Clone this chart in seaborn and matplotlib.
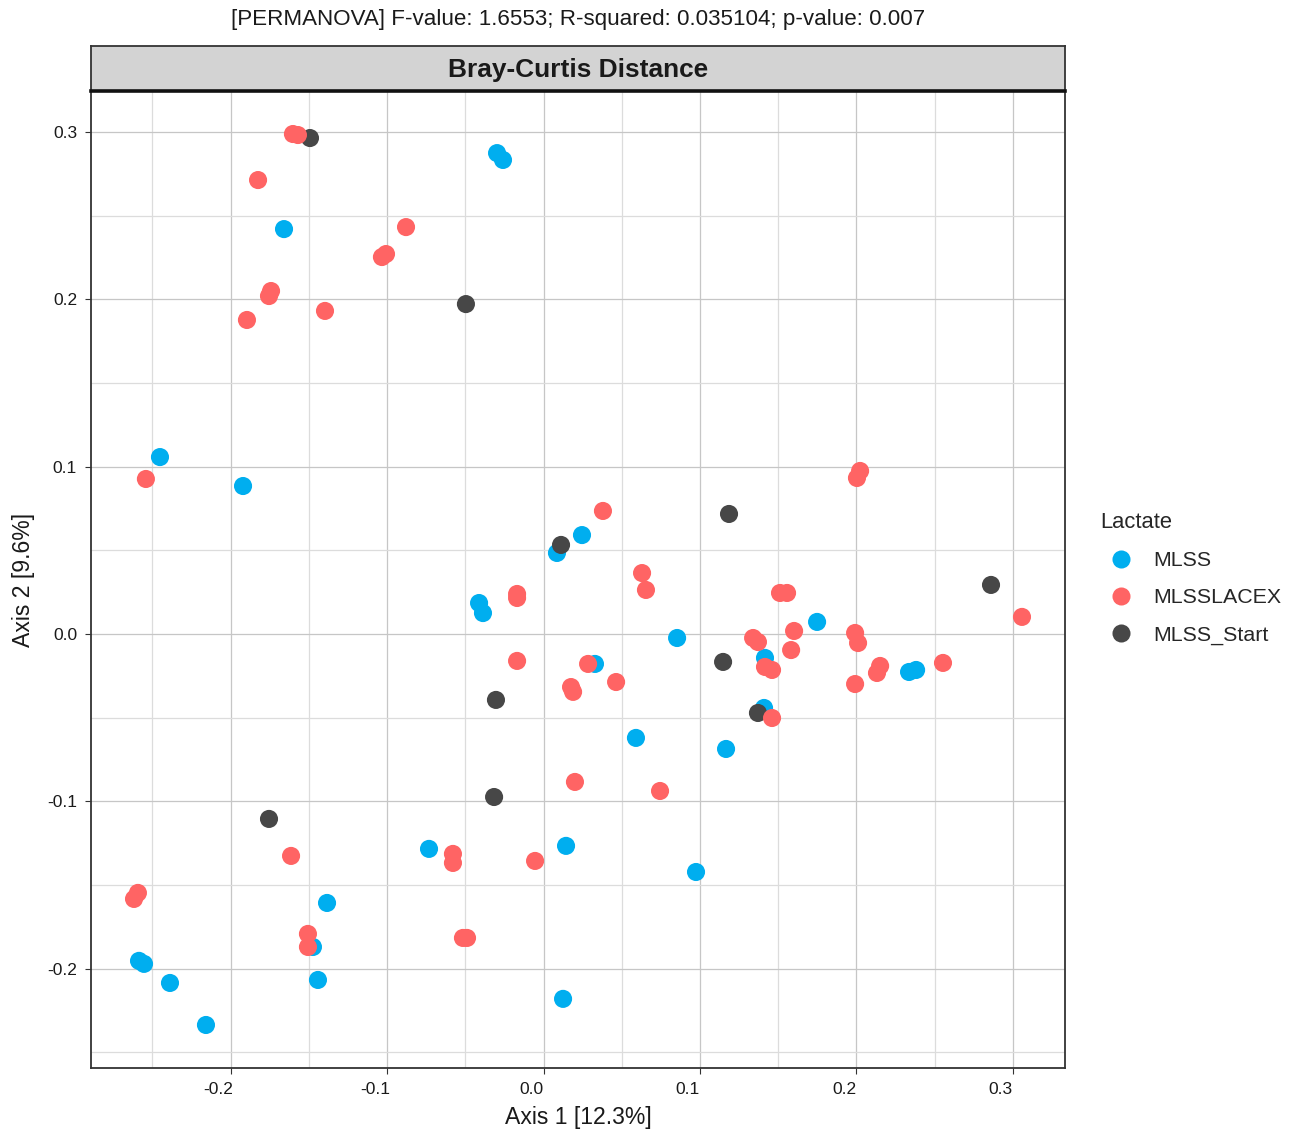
import numpy as np
import pandas as pd
import matplotlib
matplotlib.use("Agg")
import matplotlib.pyplot as plt
import matplotlib.transforms as mtransforms
from matplotlib.ticker import MultipleLocator, FixedLocator
import seaborn as sns

# ---------------- data ----------------
groups = ["MLSS", "MLSSLACEX", "MLSS_Start"]
colors = ["#00AEEF", "#FF6464", "#474747"]

mlss_x = [-0.0297, -0.0259, -0.1659, -0.2452, -0.1921, -0.0412, -0.0387, 0.0086, 0.0246, 0.0854,
          0.1749, 0.0329, 0.1416, 0.2337, 0.2382, 0.1410, 0.0591, 0.1167, 0.0975, -0.0732,
          0.0144, 0.0125, -0.1384, -0.1474, -0.1442, -0.2586, -0.2554, -0.2388, -0.2158]
mlss_y = [0.2873, 0.2832, 0.2419, 0.1057, 0.0884, 0.0185, 0.0125, 0.0484, 0.0591, -0.0024,
          0.0072, -0.0179, -0.0143, -0.0227, -0.0215, -0.0442, -0.0621, -0.0687, -0.1422, -0.1284,
          -0.1266, -0.2180, -0.1607, -0.1870, -0.2067, -0.1953, -0.1971, -0.2085, -0.2336]

lacex_x = [-0.1602, -0.1570, -0.1825, -0.0879, -0.1033, -0.1007, -0.1742, -0.1755, -0.1896, -0.1397,
           -0.2542, 0.0380, 0.2024, 0.2004, 0.0630, 0.0655, -0.0169, -0.0169, 0.1512, 0.1557,
           0.3059, 0.1340, 0.1371, 0.1602, 0.1583, 0.1992, 0.2011, -0.0169, 0.0285, 0.0464,
           0.0176, 0.0189, 0.1416, 0.1461, 0.2152, 0.2132, 0.2554, 0.1992, 0.1461, 0.0201,
           0.0745, -0.1614, -0.0579, -0.0579, -0.0054, -0.2618, -0.2593, -0.1506, -0.1506, -0.0515,
           -0.0489]
lacex_y = [0.2987, 0.2981, 0.2712, 0.2431, 0.2252, 0.2270, 0.2049, 0.2019, 0.1876, 0.1930,
           0.0926, 0.0735, 0.0974, 0.0932, 0.0364, 0.0263, 0.0239, 0.0215, 0.0245, 0.0245,
           0.0102, -0.0024, -0.0048, 0.0018, -0.0096, 0.0006, -0.0054, -0.0161, -0.0179, -0.0287,
           -0.0317, -0.0346, -0.0197, -0.0215, -0.0191, -0.0233, -0.0173, -0.0299, -0.0502, -0.0884,
           -0.0938, -0.1326, -0.1314, -0.1368, -0.1356, -0.1583, -0.1547, -0.1792, -0.1870, -0.1816,
           -0.1816]

start_x = [-0.1493, -0.0496, 0.1186, 0.0112, 0.2861, 0.1148, -0.0304, 0.1371, -0.0316, -0.1755]
start_y = [0.2963, 0.1971, 0.0717, 0.0532, 0.0293, -0.0167, -0.0394, -0.0472, -0.0974, -0.1105]

x_ticks = [-0.2, -0.1, 0.0, 0.1, 0.2, 0.3]
y_ticks = [-0.2, -0.1, 0.0, 0.1, 0.2, 0.3]

title_text = "[PERMANOVA] F-value: 1.6553; R-squared: 0.035104; p-value: 0.007"
strip_text = "Bray-Curtis Distance"
x_label = "Axis 1 [12.3%]"
y_label = "Axis 2 [9.6%]"
legend_title = "Lactate"

df = pd.concat([
    pd.DataFrame({"Axis1": mlss_x, "Axis2": mlss_y, "Lactate": groups[0]}),
    pd.DataFrame({"Axis1": start_x, "Axis2": start_y, "Lactate": groups[2]}),
    pd.DataFrame({"Axis1": lacex_x, "Axis2": lacex_y, "Lactate": groups[1]}),
], ignore_index=True)

# ---------------- style ----------------
sns.set_theme(style="white")
plt.rcParams["font.family"] = ["Liberation Sans", "DejaVu Sans"]

W, H = 1298, 1133
fig = plt.figure(figsize=(W / 100, H / 100), dpi=100)
pl, pr, pt, pb = 91, 1065, 91, 1068
ax = fig.add_axes([pl / W, 1 - pb / H, (pr - pl) / W, (pb - pt) / H])

sns.scatterplot(data=df, x="Axis1", y="Axis2", hue="Lactate", hue_order=groups,
                palette=dict(zip(groups, colors)), s=170, linewidth=0, alpha=1,
                ax=ax, zorder=3)

ax.set_xlim(-0.2893, 0.3334)
ax.set_ylim(-0.2593, 0.3244)
ax.xaxis.set_major_locator(FixedLocator(x_ticks))
ax.yaxis.set_major_locator(FixedLocator(y_ticks))
ax.set_xticklabels([f"{v:.1f}" for v in x_ticks])
ax.set_yticklabels([f"{v:.1f}" for v in y_ticks])
ax.xaxis.set_minor_locator(MultipleLocator(0.05))
ax.yaxis.set_minor_locator(MultipleLocator(0.05))
ax.grid(True, which="major", color="#c6c6c6", linewidth=0.9, zorder=0)
ax.grid(True, which="minor", color="#dcdcdc", linewidth=0.9, zorder=0)
ax.set_axisbelow(True)
ax.tick_params(which="major", direction="out", length=4, width=0.8, color="#333333",
               labelsize=12.5, labelcolor="#1a1a1a", pad=6, bottom=True, left=True)
ax.tick_params(which="minor", length=0)
for lab in ax.get_xticklabels():
    lab.set_transform(lab.get_transform() + mtransforms.ScaledTranslation(-0.12, 0, fig.dpi_scale_trans))
for sp in ax.spines.values():
    sp.set_color("#333333")
    sp.set_linewidth(1.3)

ax.set_xlabel(x_label, fontsize=16.6, color="#1a1a1a")
ax.set_ylabel(y_label, fontsize=16.6, color="#1a1a1a")
ax.xaxis.set_label_coords(0.5, -0.039)
ax.yaxis.set_label_coords(-0.058, 0.5)

# legend
leg = ax.legend(title=legend_title, loc="upper left",
                bbox_to_anchor=(1100 / W, 1 - 512 / H), bbox_transform=fig.transFigure,
                frameon=False, fontsize=15.4, title_fontsize=15.8, handlelength=2.0,
                handletextpad=0.48, labelspacing=0.85, borderpad=0, borderaxespad=0)
leg._legend_box.align = "left"
for h in leg.legend_handles:
    h.set_markersize(13)

# strip
sax = fig.add_axes([pl / W, 1 - pt / H, (pr - pl) / W, 45 / H])
sax.set_facecolor("#d3d3d3")
sax.set_xticks([])
sax.set_yticks([])
for k, sp in sax.spines.items():
    sp.set_color("#333333")
    sp.set_linewidth(1.3)
sax.spines["bottom"].set_linewidth(2.6)
sax.spines["bottom"].set_color("#111111")
sax.text(0.5, 0.46, strip_text, ha="center", va="center", fontsize=18.9,
         fontweight="bold", color="#1a1a1a", transform=sax.transAxes)

fig.text(578 / W, 1 - 20 / H, title_text, ha="center", va="center", fontsize=16.1, color="#1a1a1a")

fig.savefig("out.png", dpi=100, facecolor="white")
